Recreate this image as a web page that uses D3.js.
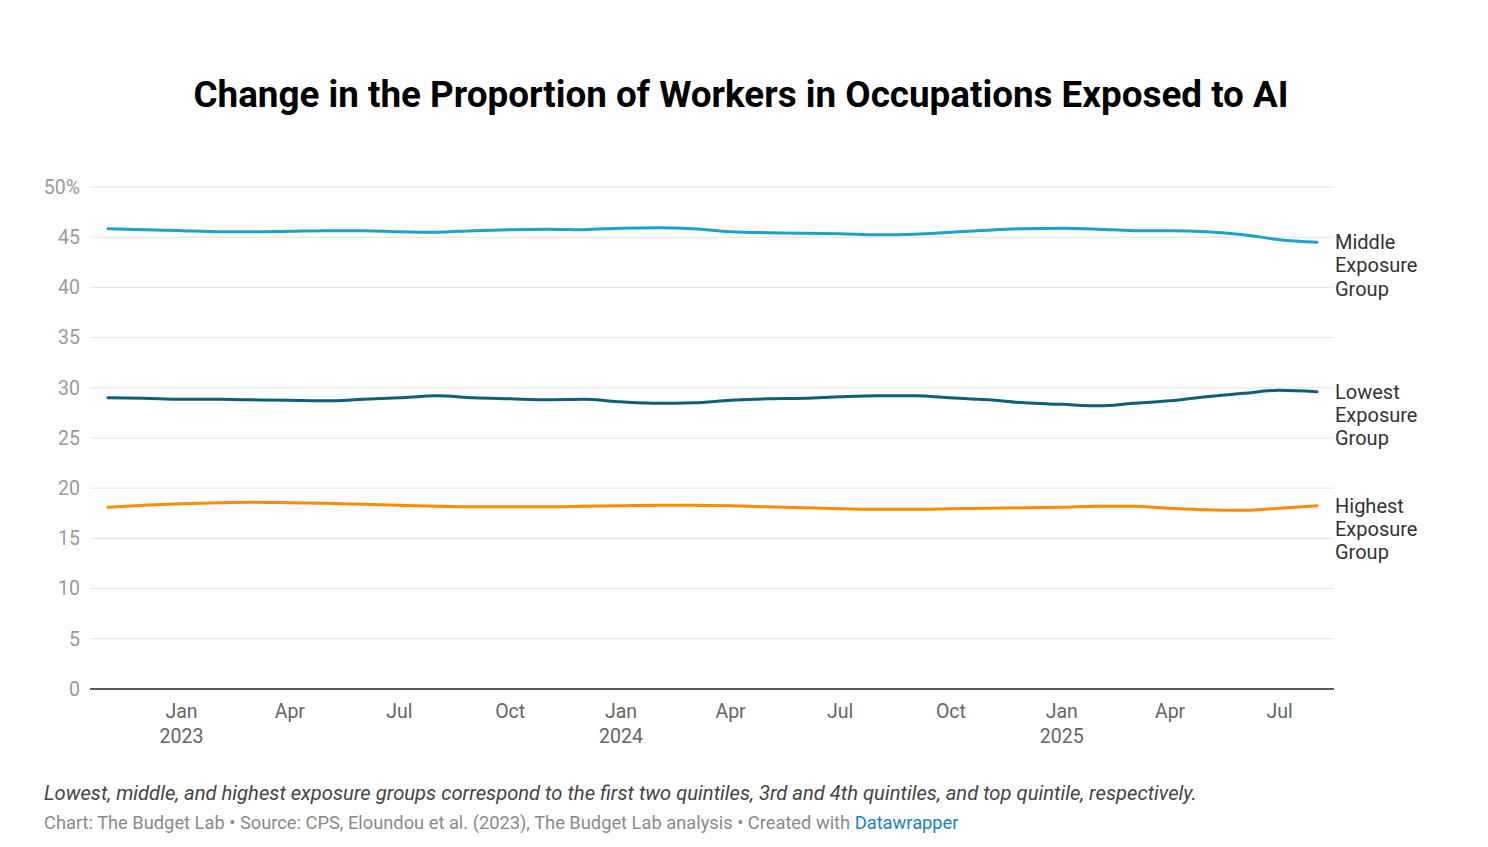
<!DOCTYPE html>
<html>
<head>
<meta charset="utf-8">
<script src="https://cdn.jsdelivr.net/npm/d3@7"></script>
<style>
  body { margin: 0; background: #fff; font-family: Roboto, "Noto Sans", sans-serif; }
</style>
</head>
<body>
<div id="chart"></div>
<script>
var svgWidth = 1488;
var svgHeight = 847;

// monthly, Nov 2022 .. Aug 2025
var months = [
  "2022-11", "2022-12",
  "2023-01", "2023-02", "2023-03", "2023-04", "2023-05", "2023-06",
  "2023-07", "2023-08", "2023-09", "2023-10", "2023-11", "2023-12",
  "2024-01", "2024-02", "2024-03", "2024-04", "2024-05", "2024-06",
  "2024-07", "2024-08", "2024-09", "2024-10", "2024-11", "2024-12",
  "2025-01", "2025-02", "2025-03", "2025-04", "2025-05", "2025-06",
  "2025-07", "2025-08"
];

var middleExposure = [
  45.85, 45.75,
  45.65, 45.55, 45.55, 45.6, 45.65, 45.65, 45.55, 45.5, 45.65, 45.75, 45.8, 45.75,
  45.9, 45.95, 45.85, 45.55, 45.45, 45.4, 45.35, 45.25, 45.3, 45.5, 45.7, 45.85,
  45.9, 45.8, 45.65, 45.65, 45.55, 45.25, 44.75, 44.5
];

var lowestExposure = [
  29.0, 28.95,
  28.85, 28.85, 28.8, 28.75, 28.7, 28.85, 29.0, 29.2, 29.0, 28.9, 28.8, 28.85,
  28.6, 28.45, 28.5, 28.75, 28.9, 28.95, 29.1, 29.2, 29.2, 29.0, 28.8, 28.5,
  28.35, 28.2, 28.45, 28.7, 29.1, 29.45, 29.75, 29.6
];

var highestExposure = [
  18.1, 18.3,
  18.45, 18.55, 18.6, 18.55, 18.5, 18.4, 18.3, 18.2, 18.15, 18.15, 18.15, 18.2,
  18.25, 18.3, 18.3, 18.25, 18.15, 18.05, 17.95, 17.9, 17.9, 17.95, 18.0, 18.05,
  18.1, 18.2, 18.2, 18.0, 17.85, 17.8, 18.0, 18.25
];

var seriesNames = ["Middle Exposure Group", "Lowest Exposure Group", "Highest Exposure Group"];
var seriesColors = ["#1ba2d0", "#0d5f7a", "#fb8b00"];
var yTicks = [0, 5, 10, 15, 20, 25, 30, 35, 40, 45, 50];
var xTickMonths = ["2023-01", "2023-04", "2023-07", "2023-10", "2024-01", "2024-04",
  "2024-07", "2024-10", "2025-01", "2025-04", "2025-07"];

var parseMonth = d3.timeParse("%Y-%m");

var svg = d3.select("#chart")
  .append("svg")
  .attr("width", svgWidth)
  .attr("height", svgHeight);

var xScale = d3.scaleTime()
  .domain([parseMonth("2022-11"), parseMonth("2025-08")])
  .range([108, 1317]);

var yScale = d3.scaleLinear()
  .domain([0, 50])
  .range([689, 187]);

var gridLeft = 90, gridRight = 1334;

// title
svg.append("text")
  .attr("x", 741)
  .attr("y", 107)
  .attr("text-anchor", "middle")
  .style("font-size", "36.8px")
  .style("font-weight", "bold")
  .style("fill", "#000")
  .text("Change in the Proportion of Workers in Occupations Exposed to AI");

// gridlines + y labels
var grid = svg.append("g");
grid.selectAll("line")
  .data(yTicks.filter(d => d > 0))
  .enter()
  .append("line")
  .attr("x1", gridLeft)
  .attr("x2", gridRight)
  .attr("y1", d => yScale(d))
  .attr("y2", d => yScale(d))
  .attr("stroke", "#e3e3e3")
  .attr("stroke-width", 1);

grid.selectAll("text")
  .data(yTicks)
  .enter()
  .append("text")
  .attr("x", 80)
  .attr("y", d => yScale(d))
  .attr("dy", "0.35em")
  .attr("text-anchor", "end")
  .style("font-size", "19.5px")
  .style("fill", "#9a9a9a")
  .text(d => d === 50 ? "50%" : d);

// baseline
svg.append("line")
  .attr("x1", gridLeft)
  .attr("x2", gridRight)
  .attr("y1", yScale(0))
  .attr("y2", yScale(0))
  .attr("stroke", "#222")
  .attr("stroke-width", 1.5);

// x axis labels
var xLabels = svg.append("g");
xTickMonths.forEach(function(m) {
  var d = parseMonth(m);
  xLabels.append("text")
    .attr("x", xScale(d))
    .attr("y", 718)
    .attr("text-anchor", "middle")
    .style("font-size", "19.5px")
    .style("fill", "#666")
    .text(d3.timeFormat("%b")(d));
  if (d.getMonth() === 0) {
    xLabels.append("text")
      .attr("x", xScale(d))
      .attr("y", 743)
      .attr("text-anchor", "middle")
      .style("font-size", "19.5px")
      .style("fill", "#666")
      .text(d.getFullYear());
  }
});

// lines
var allSeries = [middleExposure, lowestExposure, highestExposure];
var line = d3.line()
  .x((d, i) => xScale(parseMonth(months[i])))
  .y(d => yScale(d))
  .curve(d3.curveMonotoneX);

svg.selectAll(".series")
  .data(allSeries)
  .enter()
  .append("path")
  .attr("class", "series")
  .attr("d", d => line(d))
  .attr("fill", "none")
  .attr("stroke", (d, i) => seriesColors[i])
  .attr("stroke-width", 3)
  .attr("stroke-linecap", "round");

// end labels
allSeries.forEach(function(s, i) {
  var words = seriesNames[i].split(" ");
  var label = svg.append("text")
    .attr("x", 1335)
    .attr("y", yScale(s[s.length - 1]))
    .style("font-size", "20px")
    .style("fill", "#333");
  words.forEach(function(w, j) {
    label.append("tspan")
      .attr("x", 1335)
      .attr("dy", j === 0 ? "0.35em" : "1.16em")
      .text(w);
  });
});

// notes
svg.append("text")
  .attr("x", 44)
  .attr("y", 800)
  .style("font-size", "20.2px")
  .style("font-style", "italic")
  .style("fill", "#444")
  .text("Lowest, middle, and highest exposure groups correspond to the first two quintiles, 3rd and 4th quintiles, and top quintile, respectively.");

var src = svg.append("text")
  .attr("x", 44)
  .attr("y", 829)
  .style("font-size", "18.3px")
  .style("fill", "#8a8a8a");
src.append("tspan").text("Chart: The Budget Lab \u2022 Source: CPS, Eloundou et al. (2023), The Budget Lab analysis \u2022 Created with ");
src.append("tspan").style("fill", "#1d81c4").text("Datawrapper");
</script>
</body>
</html>
